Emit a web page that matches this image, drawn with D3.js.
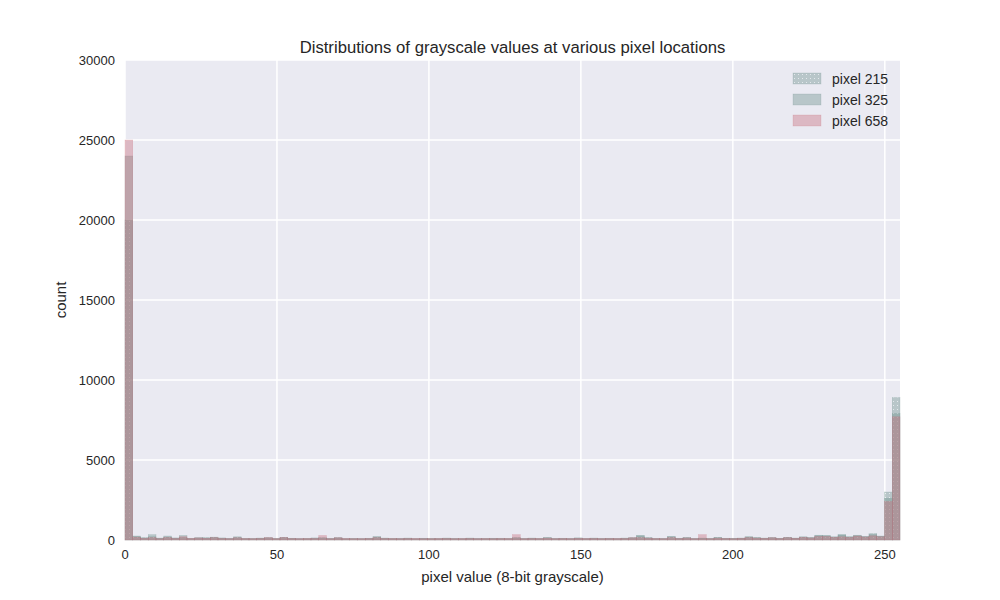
<!DOCTYPE html>
<html><head><meta charset="utf-8">
<script src="https://cdn.jsdelivr.net/npm/d3@7/dist/d3.min.js"></script>
<style>body{margin:0;background:#fff;font-family:"Liberation Sans",Arial,sans-serif;}</style>
</head><body><svg id="c" width="1000" height="600"></svg>
<script>
const seriesNames = ["pixel 215", "pixel 325", "pixel 658"];
const binCount = 100;
const xTicks = [0, 50, 100, 150, 200, 250];
const yTicks = [0, 5000, 10000, 15000, 20000, 25000, 30000];
const pixel215 = [20000,250,150,200,120,250,130,150,100,120,150,180,130,90,200,100,80,120,150,100,
  170,110,90,100,130,150,90,150,80,100,90,110,220,120,100,90,120,80,110,100,
  90,120,100,80,120,90,100,110,90,100,150,100,120,100,140,100,110,90,130,100,
  120,100,110,90,120,150,280,150,100,90,220,110,150,90,120,100,160,110,100,120,
  200,150,120,150,110,170,120,200,150,300,280,200,350,200,300,220,400,250,3000,8900];
const pixel325 = [24000,200,120,330,100,180,110,280,90,150,120,160,110,100,150,90,100,110,130,90,
  150,100,80,90,110,120,100,130,90,90,80,100,180,110,90,100,110,90,100,90,
  100,110,90,100,110,100,90,100,110,90,130,90,110,90,150,90,100,100,120,90,
  110,90,100,100,110,130,260,130,90,100,200,100,140,100,110,90,150,100,110,110,
  190,140,110,140,100,160,110,180,140,260,260,180,300,190,260,200,330,220,2600,7900];
const pixel658 = [25000,180,110,150,90,160,100,200,110,130,110,150,100,90,140,100,90,100,150,90,
  160,100,90,100,100,280,90,140,100,90,90,100,150,100,100,90,100,100,90,90,
  100,100,90,100,100,90,100,90,100,100,330,90,100,100,120,90,100,90,110,100,
  100,90,100,100,100,140,150,120,100,90,150,100,130,90,330,90,120,100,90,110,
  150,120,110,140,100,150,110,170,130,220,220,170,200,170,250,190,260,200,2400,7700];
const seriesData = [pixel215, pixel325, pixel658];
const colors = ["#6e918c", "#6e918c", "#c86e7d"];

const svg = d3.select("#c");
const m = {l:125, r:900, t:60, b:540};
const x = d3.scaleLinear().domain([0,255]).range([m.l, m.r]);
const y = d3.scaleLinear().domain([0,30000]).range([m.b, m.t]);

const defs = svg.append("defs");
const pat = defs.append("pattern").attr("id","dots").attr("patternUnits","userSpaceOnUse").attr("width",4).attr("height",4);
pat.append("rect").attr("width",4).attr("height",4).attr("fill",colors[0]);
pat.append("rect").attr("x",1).attr("y",1).attr("width",1).attr("height",1).attr("fill","#d8e4e2");

svg.append("rect").attr("x",m.l).attr("y",m.t).attr("width",m.r-m.l).attr("height",m.b-m.t).attr("fill","#eaeaf2");
svg.append("g").selectAll("line").data(xTicks).join("line")
  .attr("x1",d=>x(d)).attr("x2",d=>x(d)).attr("y1",m.t).attr("y2",m.b).attr("stroke","#fff").attr("stroke-width",1.5);
svg.append("g").selectAll("line").data(yTicks).join("line")
  .attr("y1",d=>y(d)).attr("y2",d=>y(d)).attr("x1",m.l).attr("x2",m.r).attr("stroke","#fff").attr("stroke-width",1.5);

const bw = 255/binCount;
seriesData.forEach((arr, si) => {
  svg.append("g").selectAll("rect").data(arr).join("rect")
    .attr("x", (d,i)=>x(i*bw)).attr("width", (d,i)=>x((i+1)*bw)-x(i*bw))
    .attr("y", d=>y(d)).attr("height", d=>y(0)-y(d))
    .attr("fill", si===0 ? "url(#dots)" : colors[si]).attr("fill-opacity",0.4)
    .attr("stroke", colors[si]).attr("stroke-opacity",0.4).attr("stroke-width",0.5);
});

const tick = {fill:"#262626", "font-size":"13px"};
svg.append("g").selectAll("text").data(xTicks).join("text")
  .attr("x",d=>x(d)).attr("y",m.b+19).attr("text-anchor","middle").text(d=>d)
  .attr("fill",tick.fill).attr("font-size",tick["font-size"]);
svg.append("g").selectAll("text").data(yTicks).join("text")
  .attr("x",m.l-10).attr("y",d=>y(d)+5).attr("text-anchor","end").text(d=>d)
  .attr("fill",tick.fill).attr("font-size",tick["font-size"]);

svg.append("text").attr("x",(m.l+m.r)/2).attr("y",53).attr("text-anchor","middle")
  .attr("font-size","16.7px").attr("fill","#262626").text("Distributions of grayscale values at various pixel locations");
svg.append("text").attr("x",(m.l+m.r)/2).attr("y",582).attr("text-anchor","middle")
  .attr("font-size","15px").attr("fill","#262626").text("pixel value (8-bit grayscale)");
svg.append("text").attr("transform",`translate(66,${(m.t+m.b)/2}) rotate(-90)`).attr("text-anchor","middle")
  .attr("font-size","15px").attr("fill","#262626").text("count");

const lg = svg.append("g").selectAll("g").data(seriesNames).join("g")
  .attr("transform",(d,i)=>`translate(793,${73+i*21})`);
lg.append("rect").attr("width",28).attr("height",11)
  .attr("fill",(d,i)=> i===0 ? "url(#dots)" : colors[i]).attr("fill-opacity",0.4)
  .attr("stroke",(d,i)=>colors[i]).attr("stroke-opacity",0.4).attr("stroke-width",0.5);
lg.append("text").attr("x",39).attr("y",10.5).attr("font-size","14px").attr("fill","#262626").text(d=>d);
</script></body></html>
